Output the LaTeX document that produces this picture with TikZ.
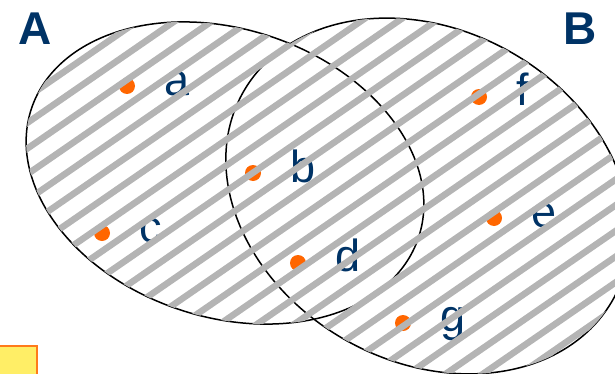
\documentclass[tikz,border=0pt]{standalone}
\usepackage{fontspec}
\setmainfont{Liberation Sans}
\usetikzlibrary{calc}
\definecolor{navy}{HTML}{003366}
\definecolor{dotorange}{HTML}{FF6600}
\definecolor{hatchgray}{HTML}{B4B4B4}
\definecolor{noteyellow}{HTML}{FFEE66}
\definecolor{noteedge}{HTML}{FF7A1A}

\tikzset{
  setpoint/.style={circle,fill=dotorange,inner sep=0pt,minimum size=16pt},
  setlabel/.style={text=navy,font=\fontsize{45}{45}\selectfont,
                   inner sep=0pt,anchor=base west},
  setname/.style={text=navy,font=\fontsize{46}{46}\selectfont\bfseries,
                  inner sep=0pt},
  hatch/.style={hatchgray,line width=6.5pt},
}

\begin{document}
\begin{tikzpicture}[x=1pt,y=1pt,line width=1.5pt]
  \useasboundingbox (0,0) rectangle (615,373);

  % the two sets
  \draw[rotate around={-18.4:(225,200)}] (225,200)
    ellipse [x radius=204,y radius=144];
  \draw[rotate around={-29:(428,177)}] (428,177)
    ellipse [x radius=212,y radius=166];

  \node[setname] (A) at (35,344.5) {A};
  \node[setname] (B) at (580,344.5) {B};

  % elements
  \node[setpoint] (pa) at (127,287) {};
  \node[setpoint] (pb) at (253,200) {};
  \node[setpoint] (pc) at (102,140) {};
  \node[setpoint] (pd) at (298,110) {};
  \node[setpoint] (pe) at (494,155) {};
  \node[setpoint] (pf) at (479,276) {};
  \node[setpoint] (pg) at (403,50) {};

  \node[setlabel] (la) at ($(pa)+(37,-9)$) {a};
  \node[setlabel] (lb) at ($(pb)+(37,-9)$) {b};
  \node[setlabel] (lc) at ($(pc)+(37,-9)$) {c};
  \node[setlabel] (ld) at ($(pd)+(37,-8)$) {d};
  \node[setlabel] (le) at ($(pe)+(37,-9)$) {e};
  \node[setlabel] (lf) at ($(pf)+(37,-8)$) {f};
  \node[setlabel] (lg) at ($(pg)+(37,-8)$) {g};

  % hatching over A union B
  \begin{scope}
    \clip {[rotate around={-18.4:(225,200)}] (225,200)
             ellipse [x radius=204,y radius=144]}
          {[rotate around={-29:(428,177)}] (428,177)
             ellipse [x radius=212,y radius=166]};
    \foreach \k in {0,...,31}
      \draw[hatch] (0,{359.8-25.7*\k}) -- (640,{801.4-25.7*\k});
  \end{scope}

  % note box, cut by the frame
  \begin{scope}
    \clip (0,0) rectangle (615,373);
    \draw[fill=noteyellow,draw=noteedge,line width=2pt]
      (-4,-4) rectangle (37,27);
  \end{scope}
\end{tikzpicture}
\end{document}
